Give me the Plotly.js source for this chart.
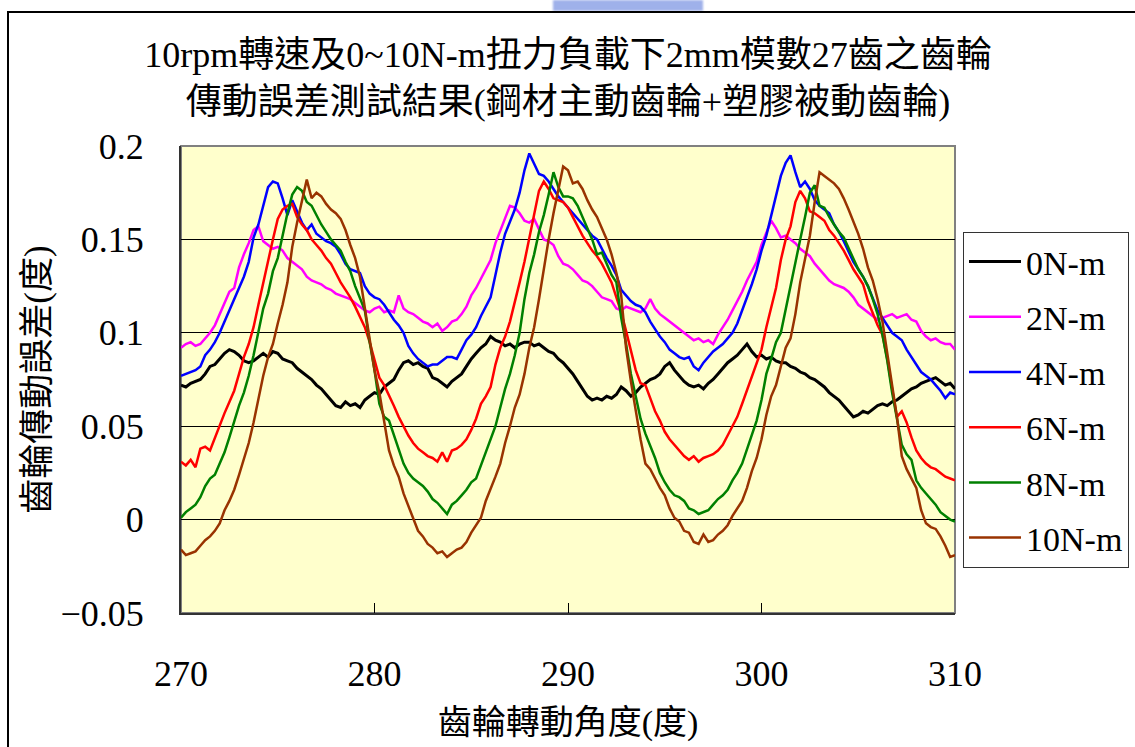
<!DOCTYPE html>
<html>
<head>
<meta charset="utf-8">
<script src="https://cdn.plot.ly/plotly-3.0.1.min.js"></script>
<style>
  html, body { margin: 0; padding: 0; background: #ffffff; }
  #wrap { position: relative; width: 1135px; height: 747px; overflow: hidden; background: #ffffff; }
  #chart { position: absolute; left: 0; top: 0; width: 1135px; height: 747px; }
  #frame { position: absolute; left: 7px; top: 11px; width: 1140px; height: 740px;
           border-left: 2px solid #000; border-top: 2px solid #000; pointer-events: none; }
  #logo { position: absolute; left: 553px; top: 0; width: 150px; height: 11px;
          background: #9fb1ea; filter: blur(1px); pointer-events: none; }
</style>
</head>
<body>
<div id="wrap">
  <div id="chart"></div>
  <div id="logo"></div>
  <div id="frame"></div>
</div>
<script>
// Sampling positions: gear rotation angle, 270°..310° every 0.25°
const angle = Array.from({ length: 161 }, (_, i) => 270 + i * 0.25);

const seriesNames = ["0N-m", "2N-m", "4N-m", "6N-m", "8N-m", "10N-m"];
const seriesColors = ["#000000", "#ff00ff", "#0000ff", "#ff0000", "#008000", "#993300"];

// Transmission error (degrees) for each load, one value per 0.25°
const err0 = [
  0.072, 0.071, 0.073, 0.074, 0.075, 0.078, 0.082, 0.083, 0.086, 0.089, 0.091, 0.090, 0.088, 0.085, 0.084, 0.085,
  0.087, 0.089, 0.087, 0.090, 0.089, 0.086, 0.085, 0.084, 0.081, 0.079, 0.077, 0.075, 0.072, 0.070, 0.067, 0.064,
  0.061, 0.060, 0.063, 0.061, 0.062, 0.060, 0.064, 0.066, 0.068, 0.067, 0.071, 0.073, 0.075, 0.080, 0.084, 0.085,
  0.083, 0.084, 0.082, 0.081, 0.076, 0.075, 0.073, 0.071, 0.074, 0.076, 0.078, 0.082, 0.086, 0.089, 0.092, 0.094,
  0.098, 0.096, 0.095, 0.093, 0.094, 0.092, 0.094, 0.095, 0.095, 0.093, 0.094, 0.092, 0.090, 0.089, 0.086, 0.084,
  0.081, 0.078, 0.074, 0.070, 0.066, 0.064, 0.065, 0.064, 0.066, 0.065, 0.067, 0.071, 0.069, 0.066, 0.068, 0.071,
  0.073, 0.075, 0.076, 0.078, 0.082, 0.084, 0.080, 0.077, 0.074, 0.072, 0.071, 0.072, 0.070, 0.073, 0.075, 0.078,
  0.081, 0.084, 0.086, 0.088, 0.091, 0.094, 0.090, 0.087, 0.088, 0.086, 0.087, 0.085, 0.084, 0.084, 0.082, 0.081,
  0.079, 0.078, 0.076, 0.075, 0.073, 0.071, 0.068, 0.066, 0.064, 0.061, 0.058, 0.055, 0.056, 0.058, 0.057, 0.059,
  0.061, 0.062, 0.061, 0.063, 0.064, 0.066, 0.068, 0.070, 0.071, 0.073, 0.074, 0.075, 0.076, 0.074, 0.072, 0.073,
  0.070
];
const err2 = [
  0.092, 0.094, 0.095, 0.093, 0.094, 0.097, 0.100, 0.104, 0.110, 0.117, 0.122, 0.124, 0.135, 0.142, 0.148, 0.155,
  0.157, 0.149, 0.147, 0.145, 0.146, 0.144, 0.140, 0.138, 0.136, 0.134, 0.130, 0.128, 0.127, 0.126, 0.124, 0.123,
  0.121, 0.120, 0.119, 0.118, 0.116, 0.114, 0.112, 0.111, 0.113, 0.114, 0.111, 0.112, 0.111, 0.120, 0.113, 0.111,
  0.110, 0.108, 0.106, 0.105, 0.103, 0.105, 0.101, 0.103, 0.106, 0.107, 0.110, 0.114, 0.120, 0.124, 0.129, 0.134,
  0.139, 0.148, 0.155, 0.162, 0.168, 0.167, 0.164, 0.160, 0.159, 0.161, 0.155, 0.150, 0.149, 0.147, 0.141, 0.137,
  0.136, 0.134, 0.131, 0.128, 0.127, 0.125, 0.122, 0.119, 0.118, 0.117, 0.113, 0.112, 0.114, 0.113, 0.112, 0.111,
  0.113, 0.118, 0.113, 0.110, 0.108, 0.106, 0.104, 0.102, 0.100, 0.098, 0.096, 0.097, 0.095, 0.096, 0.094, 0.099,
  0.103, 0.107, 0.112, 0.117, 0.122, 0.128, 0.133, 0.138, 0.147, 0.153, 0.160, 0.156, 0.151, 0.152, 0.150, 0.148,
  0.145, 0.143, 0.141, 0.137, 0.134, 0.131, 0.128, 0.126, 0.125, 0.124, 0.122, 0.119, 0.115, 0.113, 0.111, 0.109,
  0.107, 0.108, 0.109, 0.110, 0.108, 0.109, 0.110, 0.107, 0.106, 0.101, 0.098, 0.096, 0.097, 0.095, 0.094, 0.094,
  0.091
];
const err4 = [
  0.077, 0.078, 0.079, 0.080, 0.082, 0.088, 0.091, 0.095, 0.100, 0.106, 0.112, 0.118, 0.123, 0.130, 0.138, 0.151,
  0.158, 0.168, 0.178, 0.181, 0.180, 0.172, 0.163, 0.171, 0.165, 0.159, 0.155, 0.158, 0.153, 0.151, 0.149, 0.148,
  0.146, 0.142, 0.137, 0.134, 0.133, 0.132, 0.125, 0.121, 0.119, 0.118, 0.115, 0.111, 0.107, 0.104, 0.100, 0.093,
  0.089, 0.086, 0.084, 0.082, 0.083, 0.083, 0.085, 0.087, 0.087, 0.086, 0.091, 0.096, 0.099, 0.103, 0.109, 0.114,
  0.119, 0.131, 0.143, 0.153, 0.159, 0.166, 0.175, 0.187, 0.196, 0.190, 0.185, 0.184, 0.181, 0.177, 0.173, 0.170,
  0.167, 0.164, 0.161, 0.158, 0.155, 0.152, 0.150, 0.145, 0.140, 0.136, 0.131, 0.123, 0.120, 0.117, 0.115, 0.114,
  0.111, 0.106, 0.102, 0.098, 0.095, 0.091, 0.089, 0.087, 0.086, 0.087, 0.082, 0.080, 0.084, 0.087, 0.090, 0.092,
  0.094, 0.097, 0.100, 0.105, 0.112, 0.118, 0.126, 0.134, 0.144, 0.152, 0.163, 0.174, 0.184, 0.191, 0.195, 0.186,
  0.178, 0.181, 0.177, 0.171, 0.168, 0.166, 0.164, 0.158, 0.154, 0.149, 0.143, 0.138, 0.134, 0.130, 0.125, 0.118,
  0.112, 0.108, 0.104, 0.100, 0.098, 0.096, 0.091, 0.087, 0.083, 0.079, 0.077, 0.075, 0.072, 0.069, 0.065, 0.068,
  0.067
];
const err6 = [
  0.031, 0.029, 0.032, 0.028, 0.038, 0.039, 0.037, 0.044, 0.051, 0.057, 0.063, 0.069, 0.078, 0.087, 0.094, 0.103,
  0.115, 0.127, 0.138, 0.150, 0.161, 0.166, 0.168, 0.169, 0.162, 0.158, 0.155, 0.150, 0.147, 0.144, 0.140, 0.137,
  0.132, 0.127, 0.123, 0.119, 0.114, 0.108, 0.103, 0.095, 0.085, 0.076, 0.072, 0.066, 0.061, 0.055, 0.050, 0.045,
  0.041, 0.038, 0.036, 0.034, 0.033, 0.031, 0.036, 0.031, 0.037, 0.038, 0.040, 0.043, 0.048, 0.054, 0.062, 0.066,
  0.071, 0.083, 0.092, 0.098, 0.106, 0.116, 0.127, 0.138, 0.151, 0.164, 0.176, 0.181, 0.177, 0.172, 0.171, 0.170,
  0.167, 0.162, 0.157, 0.152, 0.148, 0.144, 0.141, 0.137, 0.132, 0.127, 0.119, 0.111, 0.101, 0.090, 0.080, 0.073,
  0.072, 0.065, 0.058, 0.053, 0.047, 0.043, 0.040, 0.037, 0.034, 0.032, 0.034, 0.031, 0.033, 0.034, 0.035, 0.037,
  0.040, 0.045, 0.050, 0.055, 0.062, 0.069, 0.076, 0.083, 0.091, 0.103, 0.113, 0.124, 0.139, 0.150, 0.157, 0.170,
  0.176, 0.172, 0.165, 0.164, 0.162, 0.160, 0.155, 0.152, 0.148, 0.144, 0.139, 0.134, 0.130, 0.126, 0.117, 0.110,
  0.104, 0.099, 0.086, 0.070, 0.055, 0.058, 0.052, 0.044, 0.037, 0.033, 0.030, 0.028, 0.027, 0.025, 0.023, 0.022,
  0.021
];
const err8 = [
  0.001, 0.004, 0.006, 0.008, 0.012, 0.018, 0.022, 0.024, 0.030, 0.036, 0.044, 0.053, 0.061, 0.068, 0.077, 0.088,
  0.100, 0.113, 0.121, 0.133, 0.140, 0.152, 0.164, 0.174, 0.178, 0.176, 0.170, 0.168, 0.163, 0.158, 0.154, 0.150,
  0.147, 0.144, 0.138, 0.133, 0.125, 0.118, 0.112, 0.095, 0.080, 0.062, 0.055, 0.053, 0.045, 0.038, 0.030, 0.025,
  0.022, 0.020, 0.018, 0.015, 0.011, 0.009, 0.006, 0.003, 0.008, 0.010, 0.013, 0.016, 0.020, 0.022, 0.029, 0.036,
  0.043, 0.050, 0.060, 0.070, 0.078, 0.088, 0.100, 0.118, 0.132, 0.142, 0.154, 0.163, 0.174, 0.186, 0.178, 0.173,
  0.173, 0.172, 0.168, 0.162, 0.157, 0.150, 0.142, 0.143, 0.137, 0.131, 0.127, 0.108, 0.094, 0.078, 0.066, 0.054,
  0.046, 0.040, 0.033, 0.025, 0.020, 0.016, 0.013, 0.012, 0.010, 0.006, 0.005, 0.003, 0.004, 0.005, 0.008, 0.011,
  0.013, 0.016, 0.021, 0.025, 0.030, 0.038, 0.046, 0.053, 0.064, 0.078, 0.086, 0.095, 0.100, 0.113, 0.126, 0.137,
  0.150, 0.162, 0.175, 0.179, 0.168, 0.167, 0.162, 0.158, 0.154, 0.151, 0.145, 0.139, 0.134, 0.130, 0.125, 0.118,
  0.110, 0.099, 0.085, 0.068, 0.055, 0.040, 0.035, 0.032, 0.021, 0.017, 0.014, 0.011, 0.008, 0.004, 0.002, 0.000,
  -0.001
];
const err10 = [
  -0.016, -0.019, -0.018, -0.017, -0.014, -0.011, -0.009, -0.006, -0.002, 0.005, 0.010, 0.016, 0.024, 0.033, 0.041, 0.052,
  0.065, 0.077, 0.087, 0.094, 0.105, 0.115, 0.127, 0.146, 0.159, 0.171, 0.182, 0.172, 0.175, 0.173, 0.169, 0.166,
  0.164, 0.161, 0.155, 0.147, 0.140, 0.130, 0.114, 0.096, 0.080, 0.068, 0.052, 0.037, 0.029, 0.023, 0.014, 0.007,
  0.000, -0.006, -0.009, -0.013, -0.015, -0.018, -0.017, -0.020, -0.018, -0.016, -0.015, -0.012, -0.007, -0.003, 0.001, 0.010,
  0.016, 0.023, 0.030, 0.041, 0.050, 0.060, 0.067, 0.078, 0.092, 0.103, 0.118, 0.135, 0.150, 0.164, 0.177, 0.189,
  0.187, 0.180, 0.181, 0.177, 0.171, 0.166, 0.162, 0.156, 0.150, 0.142, 0.132, 0.120, 0.092, 0.074, 0.058, 0.043,
  0.030, 0.027, 0.022, 0.017, 0.013, 0.006, 0.001, -0.001, -0.006, -0.007, -0.012, -0.013, -0.008, -0.012, -0.011, -0.008,
  -0.006, -0.003, 0.002, 0.006, 0.010, 0.017, 0.026, 0.033, 0.043, 0.056, 0.066, 0.072, 0.082, 0.092, 0.097, 0.110,
  0.127, 0.139, 0.152, 0.170, 0.186, 0.184, 0.182, 0.180, 0.177, 0.172, 0.166, 0.160, 0.153, 0.145, 0.135, 0.128,
  0.118, 0.106, 0.088, 0.072, 0.055, 0.034, 0.027, 0.022, 0.017, 0.005, -0.002, -0.004, -0.005, -0.009, -0.014, -0.020,
  -0.019
];
const seriesValues = [err0, err2, err4, err6, err8, err10];
const lineWidths = [3, 2.5, 2.5, 2.5, 2.5, 2.5];

const xTickVals = [270, 280, 290, 300, 310];
const xTickText = ["270", "280", "290", "300", "310"];
const yTickVals = [-0.05, 0, 0.05, 0.1, 0.15, 0.2];
const yTickText = ["\u22120.05", "0", "0.05", "0.1", "0.15", "0.2"];

const titleLines = [
  "10rpm轉速及0~10N-m扭力負載下2mm模數27齒之齒輪",
  "傳動誤差測試結果(鋼材主動齒輪+塑膠被動齒輪)"
];
const xTitle = "齒輪轉動角度(度)";
const yTitle = "齒輪傳動誤差(度)";

const FONT = "'Liberation Serif', 'Noto Sans CJK TC', serif";

const traces = seriesNames.map((name, i) => ({
  type: "scatter",
  mode: "lines",
  name: name,
  legendgroup: name,
  x: angle,
  y: seriesValues[i],
  line: { color: seriesColors[i], width: lineWidths[i] },
  hoverinfo: "skip"
}));

const layout = {
  width: 1135,
  height: 747,
  margin: { l: 181, r: 180, t: 146, b: 134, pad: 0, autoexpand: false },
  paper_bgcolor: "rgba(0,0,0,0)",
  plot_bgcolor: "#ffffcc",
  font: { family: FONT, color: "#000000", size: 34 },
  showlegend: true,
  title: {
    text: titleLines.join("<br>"),
    x: 0.5, xref: "paper", xanchor: "center",
    y: 1 - 67 / 747, yref: "container", yanchor: "top",
    font: { family: FONT, size: 36, color: "#000000" }
  },
  xaxis: {
    range: [270, 310],
    tickmode: "array", tickvals: xTickVals, ticktext: xTickText,
    ticks: "inside", ticklen: 10, tickwidth: 1, tickcolor: "#000000",
    showgrid: false, zeroline: false,
    showline: true, linecolor: "#333333", linewidth: 2,
    ticklabelstandoff: 28,
    tickfont: { family: FONT, size: 36 },
    title: { text: xTitle, standoff: 17, font: { family: FONT, size: 34 } },
    automargin: false, fixedrange: true
  },
  yaxis: {
    range: [-0.05, 0.2],
    tickmode: "array", tickvals: yTickVals, ticktext: yTickText,
    ticks: "inside", ticklen: 8, tickwidth: 1, tickcolor: "#000000",
    showgrid: true, gridcolor: "#000000", gridwidth: 1,
    zeroline: false,
    showline: true, linecolor: "#333333", linewidth: 2,
    ticklabelstandoff: 28,
    tickfont: { family: FONT, size: 36 },
    title: { text: yTitle, standoff: 0, font: { family: FONT, size: 35 } },
    automargin: false, fixedrange: true
  },
  legend: {
    x: (963 - 181) / 774, xref: "paper", xanchor: "left",
    y: (613 - 232) / 467, yref: "paper", yanchor: "top",
    bgcolor: "#ffffff", bordercolor: "#333333", borderwidth: 1,
    font: { family: FONT, size: 34, color: "#000000" },
    itemwidth: 52, tracegroupgap: 8, traceorder: "grouped"
  },
  shapes: [
    {
      type: "rect", xref: "paper", yref: "paper",
      x0: 0, x1: 1, y0: 0, y1: 1,
      line: { color: "#808080", width: 2 }, layer: "below"
    }
  ]
};

Plotly.newPlot("chart", traces, layout, { staticPlot: true, displayModeBar: false });
</script>
</body>
</html>
